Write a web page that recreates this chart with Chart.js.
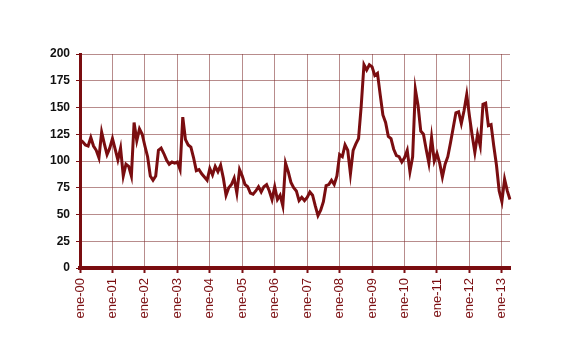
<!DOCTYPE html>
<html>
<head>
<meta charset="utf-8">
<script src="https://cdn.jsdelivr.net/npm/chart.js@4.4.1/dist/chart.umd.min.js"></script>
<style>
  body { margin: 0; background: #ffffff; }
</style>
</head>
<body>
<canvas id="chart" width="572" height="350"></canvas>
<script>
const years = ['00', '01', '02', '03', '04', '05', '06', '07', '08', '09', '10', '11', '12', '13'];
const monthNames = ['ene', 'feb', 'mar', 'abr', 'may', 'jun', 'jul', 'ago', 'sep', 'oct', 'nov', 'dic'];

// one value per month, ene-00 .. abr-13
const values = [
    120, 118, 115, 114, 122, 114, 110, 103, 127, 116, 106, 112,
    121, 111, 101, 112, 86, 97, 95, 86, 136, 119, 130, 125,
    114, 104, 86, 82, 86, 110, 112, 107, 101, 97, 99, 98,
    99, 92, 141, 120, 115, 113, 103, 91, 92, 88, 85, 82,
    93, 87, 95, 90, 96, 84, 68, 75, 78, 84, 70, 92,
    86, 78, 76, 70, 69, 72, 76, 71, 76, 78, 72, 64,
    76, 64, 68, 58, 98, 90, 80, 75, 72, 63, 66, 63,
    66, 71, 68, 58, 49, 54, 62, 77, 78, 82, 78, 86,
    106, 104, 115, 110, 88, 110, 116, 121, 152, 190, 185, 190,
    188, 180, 182, 162, 143, 136, 123, 121, 111, 105, 104, 99,
    103, 110, 90, 104, 167, 152, 128, 125, 111, 98, 122, 100,
    107, 98, 85, 97, 104, 117, 131, 145, 146, 135, 147, 162,
    142, 124, 108, 125, 114, 153, 154, 133, 134, 114, 96, 72,
    62, 83, 72, 64
];

const yMin = 0;
const yMax = 200;
const yStep = 25;

const labels = values.map((v, i) => monthNames[i % 12] + '-' + years[Math.floor(i / 12)]);

const lineColor = '#7a0d10';
const gridColor = 'rgba(125, 45, 45, 0.55)';
const isYearStart = (i) => i % 12 === 0;

new Chart(document.getElementById('chart'), {
    type: 'line',
    data: {
        labels: labels,
        datasets: [{
            data: values,
            borderColor: lineColor,
            borderWidth: 3,
            pointRadius: 0,
            tension: 0,
            fill: false
        }]
    },
    options: {
        responsive: false,
        animation: false,
        layout: {
            padding: { left: 0, right: 62, top: 54, bottom: 0 }
        },
        plugins: {
            legend: { display: false },
            tooltip: { enabled: false }
        },
        scales: {
            x: {
                type: 'category',
                offset: false,
                afterFit: (scale) => { scale.height = 82; },
                border: { color: lineColor, width: 4 },
                grid: {
                    color: (ctx) => isYearStart(ctx.index) ? gridColor : 'transparent',
                    tickColor: (ctx) => isYearStart(ctx.index) ? lineColor : 'transparent',
                    tickWidth: 2,
                    tickLength: 5,
                    lineWidth: 1
                },
                ticks: {
                    autoSkip: false,
                    maxRotation: 90,
                    minRotation: 90,
                    padding: 5,
                    color: lineColor,
                    font: { family: 'Liberation Sans', size: 13 },
                    callback: function (value, index) {
                        return isYearStart(index) ? this.getLabelForValue(value) : '';
                    }
                }
            },
            y: {
                min: yMin,
                max: yMax,
                afterFit: (scale) => { scale.width = 80; },
                border: { color: lineColor, width: 3 },
                grid: {
                    color: gridColor,
                    tickColor: lineColor,
                    tickLength: 4,
                    lineWidth: 1
                },
                ticks: {
                    stepSize: yStep,
                    padding: 6,
                    color: '#111111',
                    font: { family: 'Liberation Sans', size: 12, weight: 'bold' }
                }
            }
        }
    }
});
</script>
</body>
</html>
